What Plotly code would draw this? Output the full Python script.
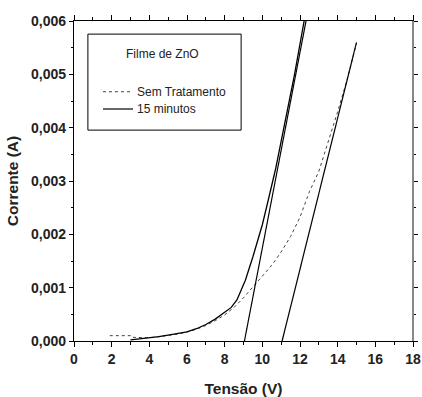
import plotly.graph_objects as go

# --- data ---
sem_x = [1.9, 2.5, 3.0, 3.05, 3.5, 4.0, 4.5, 5.0, 5.5, 6.0, 6.5, 7.0, 7.5, 8.0,
         8.5, 9.0, 9.5, 10.0, 10.5, 11.0, 11.5, 12.0, 12.5, 13.0, 13.5, 14.0, 14.5, 15.0]
sem_y = [0.0001, 0.0001, 0.0001, 0.00007, 0.00006, 0.00006, 0.00008, 0.0001, 0.00013,
         0.00017, 0.00022, 0.00029, 0.00038, 0.00049, 0.00063, 0.00081, 0.00101, 0.00121,
         0.00142, 0.00167, 0.00196, 0.00232, 0.00280, 0.00318, 0.00373, 0.0043, 0.0049, 0.00558]

min15_x = [3.0, 3.5, 4.0, 4.5, 5.0, 5.5, 6.0, 6.5, 7.0, 7.5, 8.0, 8.35, 8.65, 8.9, 9.1,
           9.5, 10.0, 10.3, 10.7, 11.2, 11.7, 12.22]
min15_y = [0.00002, 0.00004, 0.00005, 0.00008, 0.00011, 0.00014, 0.00017, 0.00023,
           0.00031, 0.00041, 0.00053, 0.00063, 0.00077, 0.00096, 0.00114, 0.00158,
           0.00218, 0.00262, 0.00322, 0.0041, 0.00498, 0.006]

tan1_x = [9.05, 12.32]
tan1_y = [0.0, 0.006]
tan2_x = [11.05, 15.0]
tan2_y = [0.0, 0.0056]

legend_title = "Filme de ZnO"
series_names = ["Sem Tratamento", "15 minutos"]

FONT = "Liberation Sans, Arial, sans-serif"

fig = go.Figure()
fig.add_trace(go.Scatter(x=sem_x, y=sem_y, mode="lines", name=series_names[0],
                         line=dict(color="#444444", width=1, dash="dot"), showlegend=False))
fig.add_trace(go.Scatter(x=min15_x, y=min15_y, mode="lines", name=series_names[1],
                         line=dict(color="black", width=1.3), showlegend=False))
fig.add_trace(go.Scatter(x=tan1_x, y=tan1_y, mode="lines",
                         line=dict(color="black", width=1.2), showlegend=False))
fig.add_trace(go.Scatter(x=tan2_x, y=tan2_y, mode="lines",
                         line=dict(color="black", width=1.2), showlegend=False))

axis_common = dict(showgrid=False, zeroline=False, showline=True, linecolor="black",
                   linewidth=1.3, mirror="ticks", ticks="outside", tickcolor="black",
                   tickwidth=1, ticklabeloverflow="allow",
                   tickfont=dict(family=FONT, size=14, color="#222", weight="bold"))

fig.update_xaxes(range=[0, 18], dtick=2, tick0=0, ticklen=5,
                 minor=dict(dtick=1, ticks="outside", ticklen=3, tickcolor="black"),
                 title=dict(text="Tensão (V)", standoff=17,
                            font=dict(family=FONT, size=15.5, color="#222", weight="bold")),
                 **axis_common)
fig.update_yaxes(range=[0, 0.006], dtick=0.001, tick0=0, ticklen=4, tickformat=".3f",
                 minor=dict(dtick=0.0005, ticks="outside", ticklen=2, tickcolor="black"),
                 title=dict(text="Corrente (A)", standoff=8,
                            font=dict(family=FONT, size=15.5, color="#222", weight="bold")),
                 **axis_common)

shapes = [
    # legend box
    dict(type="rect", xref="paper", yref="paper", x0=0.041, x1=0.493, y0=0.659, y1=0.959,
         line=dict(color="black", width=1), fillcolor="white"),
    dict(type="line", xref="paper", yref="paper", x0=0.0855, x1=0.174, y0=0.779, y1=0.779,
         line=dict(color="#444444", width=1, dash="dot")),
    dict(type="line", xref="paper", yref="paper", x0=0.0855, x1=0.174, y0=0.725, y1=0.725,
         line=dict(color="black", width=1.2)),
    # grey right frame edge
    dict(type="line", xref="paper", yref="paper", x0=1, x1=1, y0=0, y1=1,
         line=dict(color="#888888", width=2)),
]
annotations = [
    dict(text=legend_title, xref="paper", yref="paper", x=0.26, y=0.897, showarrow=False,
         xanchor="center", yanchor="middle", font=dict(family=FONT, size=12, color="#222")),
    dict(text=series_names[0], xref="paper", yref="paper", x=0.181, y=0.779, showarrow=False,
         xanchor="left", yanchor="middle", font=dict(family=FONT, size=12, color="#222")),
    dict(text=series_names[1], xref="paper", yref="paper", x=0.181, y=0.725, showarrow=False,
         xanchor="left", yanchor="middle", font=dict(family=FONT, size=12, color="#222")),
]

fig.update_layout(width=422, height=397, margin=dict(l=74, r=9, t=21, b=56, autoexpand=False),
                  plot_bgcolor="white", paper_bgcolor="white", separators=",.",
                  shapes=shapes, annotations=annotations,
                  font=dict(family=FONT, color="#222"))
fig.write_html("out.html", config={"displayModeBar": False},
               post_script="document.body.style.margin='0';document.body.style.overflow='hidden';")
